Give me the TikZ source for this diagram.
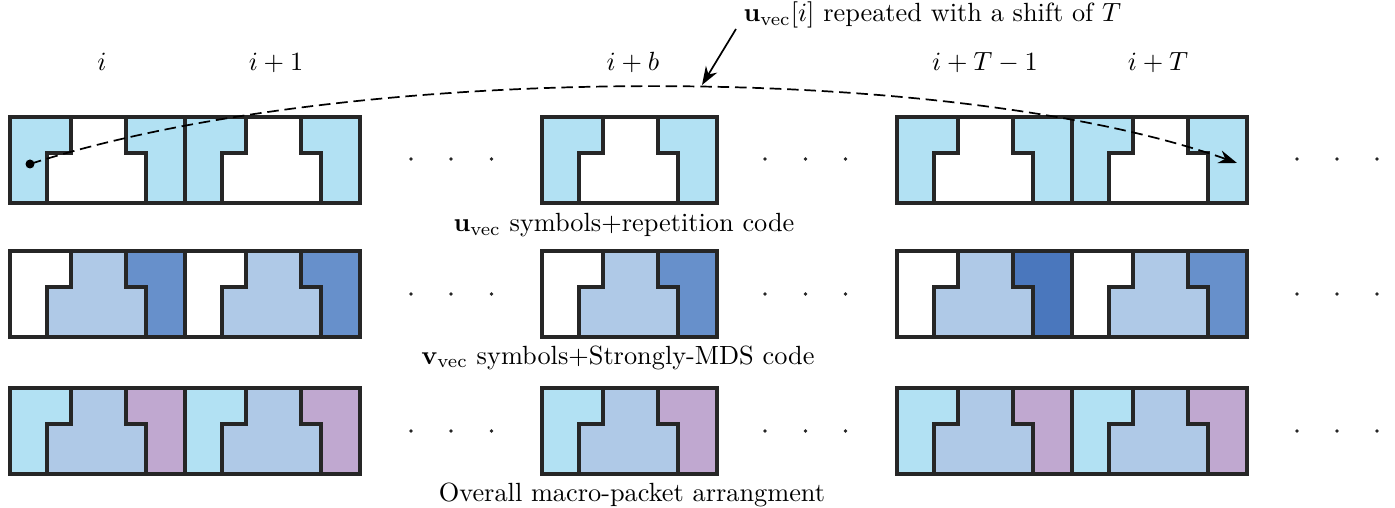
\documentclass[tikz,border=0pt]{standalone}
\usetikzlibrary{arrows.meta}
\definecolor{cyanl}{RGB}{178,225,243}
\definecolor{steell}{RGB}{175,201,231}
\definecolor{bluem}{RGB}{103,144,203}
\definecolor{blued}{RGB}{74,119,189}
\definecolor{purp}{RGB}{192,168,208}
\definecolor{edgec}{RGB}{38,38,38}
\tikzset{
  edgeline/.style={draw=edgec, line width=1.2pt, line join=miter},
  lbl/.style={inner sep=0pt, anchor=base},
  dotpt/.style={fill=edgec},
  curve/.style={draw=black, line width=0.65pt, dash pattern=on 4.4pt off 2.2pt, -{Stealth[length=7pt,width=5pt]}},
  ann/.style={draw=black, line width=0.65pt, -{Stealth[length=7pt,width=5pt]}}
}
\newcommand{\drawblk}[5]{%
 \begin{scope}[shift={(#1,#2)}]
 \fill[#4] (0,0) rectangle (175,86);
 \fill[#3] (0,0)--(61,0)--(61,36)--(37,36)--(37,86)--(0,86)--cycle;
 \fill[#5] (116,0)--(175,0)--(175,86)--(136,86)--(136,36)--(116,36)--cycle;
 \draw[edgeline] (61,0)--(61,36)--(37,36)--(37,86);
 \draw[edgeline] (116,0)--(116,36)--(136,36)--(136,86);
 \draw[edgeline] (0,0) rectangle (175,86);
 \end{scope}}
\newcommand{\dotrow}[1]{%
 \foreach \dx in {411,451,491.5,765,805.5,845.5,1297,1337,1377}{\fill[dotpt] (\dx,#1) circle (1.8);}}
\begin{document}
\begin{tikzpicture}[x=0.38pt,y=-0.38pt]
\useasboundingbox (0,0) rectangle (1395,508);
% column labels
\node[lbl] (li) at (102,71) {$i$};
\node[lbl] (li1) at (276,71) {$i+1$};
\node[lbl] (lib) at (633,71) {$i+b$};
\node[lbl] (liT1) at (985,71) {$i+T-1$};
\node[lbl] (liT) at (1158,71) {$i+T$};
% row 1
\foreach \bx in {10,185,542,897,1072}{\drawblk{\bx}{117}{cyanl}{white}{cyanl}}
\dotrow{159}
\node[lbl] (c1) at (624,232) {$\mathbf{u}_{\mathrm{vec}}$ symbols+repetition code};
% row 2
\foreach \bx in {10,185,542,1072}{\drawblk{\bx}{251}{white}{steell}{bluem}}
\drawblk{897}{251}{white}{steell}{blued}
\dotrow{294}
\node[lbl] (c2) at (618,364) {$\mathbf{v}_{\mathrm{vec}}$ symbols+Strongly-MDS code};
% row 3
\foreach \bx in {10,185,542,897,1072}{\drawblk{\bx}{388}{cyanl}{steell}{purp}}
\dotrow{431}
\node[lbl] (c3) at (632,501) {Overall macro-packet arrangment};
% dashed repetition curve
\coordinate (cs) at (30,164);
\coordinate (ce) at (1237,163);
\fill[black] (cs) circle (4.5);
\draw[curve] (cs) .. controls (350,61) and (950,61) .. (ce);
% annotation
\node[lbl, anchor=base west] (ann) at (743,22) {$\mathbf{u}_{\mathrm{vec}}[i]$ repeated with a shift of $T$};
\coordinate (annstart) at (736,29);
\coordinate (annend) at (702,85);
\draw[ann] (annstart) -- (annend);
\end{tikzpicture}
\end{document}
